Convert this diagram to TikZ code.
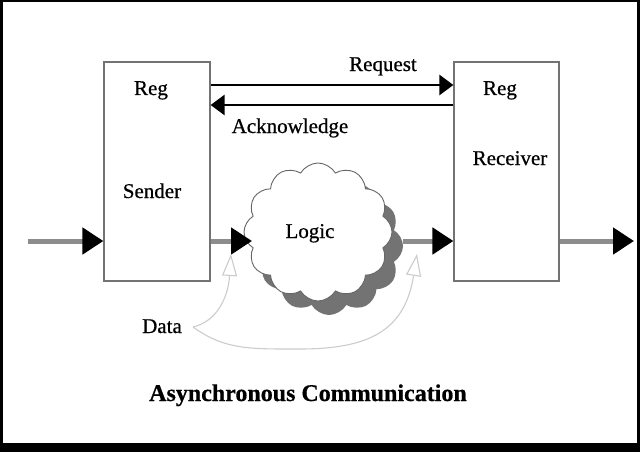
\documentclass[tikz,border=0pt]{standalone}
\usepackage{fontspec}
\setmainfont{Liberation Serif}[FakeBold=0.6]
\usetikzlibrary{arrows.meta,shapes.symbols}
\begin{document}
\begin{tikzpicture}[x=1pt,y=-1pt,
  lbl/.style={font=\fontsize{21}{21}\selectfont, inner sep=0pt, anchor=base},
  regbox/.style={draw=black!55, line width=1.2pt, fill=white, minimum width=106pt, minimum height=219pt, inner sep=0pt},
  flow/.style={draw=black!45, line width=5pt, -{Triangle[length=21pt,width=26pt,black]}},
  hand/.style={draw=black, line width=2.6pt, -{Triangle[length=14pt,width=20pt]}},
  datarrow/.style={draw=gray!40, line width=1.1pt, -{Triangle[open,length=22pt,width=15pt,fill=white]}},
  puff/.style={cloud, cloud puffs=12, cloud puff arc=120, cloud ignores aspect, minimum width=148pt, minimum height=138pt, inner sep=0pt},
]
\useasboundingbox (0,0) rectangle (640,452);
\fill[black] (0,0) rectangle (640,452);
\fill[white] (2.5,2.5) rectangle (636.5,443);

% registers
\node[regbox] (sender) at (157,171.5) {};
\node[regbox, minimum width=105pt] (receiver) at (506.5,171.5) {};

\node[lbl] (sreg) at (151,95) {Reg};
\node[lbl] (sname) at (152,198) {Sender};
\node[lbl] (rreg) at (500,95) {Reg};
\node[lbl] (rname) at (510,165) {Receiver};

% handshake
\draw[hand] (sender.east |- 0,85) -- (receiver.west |- 0,85);
\draw[hand] (receiver.west |- 0,105) -- (sender.east |- 0,105);
\node[lbl] (req) at (383,71) {Request};
\node[lbl] (ack) at (290,133) {Acknowledge};

% logic cloud
\node[puff, fill=black!55] (logicshadow) at (329,246) {};
\node[puff, fill=white, draw=black!60, line width=0.9pt] (logic) at (318,232) {};
\node[lbl] (logiclbl) at (310,238) {Logic};

% data path
\coordinate (in) at (28,241);
\coordinate (out) at (634,241);
\coordinate (logicin) at (252,241);
\draw[flow] (in) -- (sender.west |- in);
\draw[flow] (sender.east |- in) -- (logicin);
\draw[flow] (logicshadow.east |- in) -- (receiver.west |- in);
\draw[flow] (receiver.east |- in) -- (out);

% data arrows
\node[lbl] (data) at (162,333) {Data};
\coordinate (dsrc) at (193,327);
\coordinate (dtipa) at (231,254);
\coordinate (dtipb) at (417,254);
\draw[datarrow] (dsrc) .. controls (215,322) and (228,300) .. (dtipa);
\draw[datarrow] (dsrc) .. controls (225,350) and (250,349) .. (300,349)
  .. controls (370,349) and (405,330) .. (dtipb);

\node[font=\bfseries\fontsize{24}{24}\selectfont, inner sep=0pt, anchor=base] (title) at (308,401) {Asynchronous Communication};
\end{tikzpicture}
\end{document}
